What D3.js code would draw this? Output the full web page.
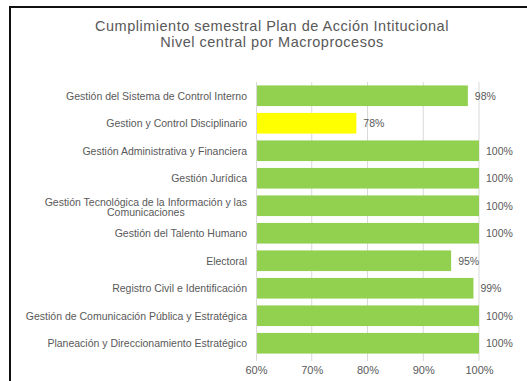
<!DOCTYPE html>
<html>
<head>
<meta charset="utf-8">
<script src="https://cdn.jsdelivr.net/npm/d3@7"></script>
<style>
  html, body { margin: 0; padding: 0; background: #fff; }
  svg { display: block; font-family: "Liberation Sans", Arial, sans-serif; }
</style>
</head>
<body>
<svg id="chart" width="527" height="381"></svg>
<script>
// Macroprocesos (top to bottom) and their semester compliance
const categories = [
  "Gestión del Sistema de Control Interno",
  "Gestion y Control Disciplinario",
  "Gestión Administrativa y Financiera",
  "Gestión Jurídica",
  "Gestión Tecnológica de la Información y las|Comunicaciones",
  "Gestión del Talento Humano",
  "Electoral",
  "Registro Civil e Identificación",
  "Gestión de Comunicación Pública y Estratégica",
  "Planeación y Direccionamiento Estratégico"
];
const values = [0.98, 0.78, 1.00, 1.00, 1.00, 1.00, 0.95, 0.99, 1.00, 1.00];
const barColors = ["#92D050", "#FFFF00", "#92D050", "#92D050", "#92D050",
                   "#92D050", "#92D050", "#92D050", "#92D050", "#92D050"];
const tickValues = [0.6, 0.7, 0.8, 0.9, 1.0];
const titleLines = ["Cumplimiento semestral Plan de Acción Intitucional",
                    "Nivel central por Macroprocesos"];

const textColor = "#595959";
const svg = d3.select("#chart");

// frame around the chart area
svg.append("path")
  .attr("d", "M10,381 V7 H527")
  .attr("fill", "none")
  .attr("stroke", "#111")
  .attr("stroke-width", 2);

// title
svg.append("g").selectAll("text")
  .data(titleLines)
  .join("text")
  .attr("x", 272)
  .attr("y", (d, i) => 31 + i * 16)
  .attr("text-anchor", "middle")
  .attr("fill", textColor)
  .attr("font-size", 14.5)
  .attr("letter-spacing", 0.5)
  .text(d => d);

const x = d3.scaleLinear().domain([0.6, 1.0]).range([256, 479]);
const y = d3.scaleBand().domain(categories).range([82, 357]).paddingInner(0.25).paddingOuter(0.125);

// vertical gridlines
svg.append("g").selectAll("line")
  .data(tickValues.slice(1))
  .join("line")
  .attr("x1", d => x(d)).attr("x2", d => x(d))
  .attr("y1", 82).attr("y2", 361)
  .attr("stroke", "#d9d9d9")
  .attr("stroke-width", 1);

// bottom axis labels
const xAxis = svg.append("g")
  .attr("transform", "translate(0,357)")
  .call(d3.axisBottom(x).tickValues(tickValues).tickFormat(d3.format(".0%")).tickSize(0).tickPadding(9));
xAxis.select(".domain").remove();
xAxis.selectAll("text").attr("fill", textColor).attr("font-size", 11)
  .attr("font-family", "'Liberation Sans', Arial, sans-serif");

// bars
svg.append("g").selectAll("rect")
  .data(categories)
  .join("rect")
  .attr("x", x(0.6))
  .attr("y", d => y(d))
  .attr("width", (d, i) => x(values[i]) - x(0.6))
  .attr("height", y.bandwidth())
  .attr("fill", (d, i) => barColors[i]);

// category axis line
svg.append("line")
  .attr("x1", x(0.6) + 0.5).attr("x2", x(0.6) + 0.5)
  .attr("y1", 82).attr("y2", 361)
  .attr("stroke", "#d9d9d9");

// category labels (a "|" marks a line break)
const labels = svg.append("g").selectAll("text")
  .data(categories)
  .join("text")
  .attr("fill", textColor)
  .attr("font-size", 10.5)
  .attr("dominant-baseline", "central");
labels.each(function (d) {
  const lines = d.split("|");
  const t = d3.select(this);
  const cy = y(d) + y.bandwidth() / 2;
  if (lines.length === 1) {
    t.attr("x", 247).attr("y", cy).attr("text-anchor", "end").text(d);
  } else {
    // centre the lines within a right-aligned block
    t.attr("text-anchor", "middle");
    const tmp = t.append("tspan").text(lines[0]);
    const w = tmp.node().getComputedTextLength();
    tmp.remove();
    lines.forEach((ln, k) => {
      t.append("tspan")
        .attr("x", 247 - w / 2)
        .attr("y", cy + 1 + (k - (lines.length - 1) / 2) * 10.5)
        .text(ln);
    });
  }
});

// value labels
svg.append("g").selectAll("text")
  .data(categories)
  .join("text")
  .attr("x", (d, i) => x(values[i]) + 7)
  .attr("y", d => y(d) + y.bandwidth() / 2)
  .attr("dominant-baseline", "central")
  .attr("fill", textColor)
  .attr("font-size", 10.5)
  .text((d, i) => d3.format(".0%")(values[i]));
</script>
</body>
</html>
